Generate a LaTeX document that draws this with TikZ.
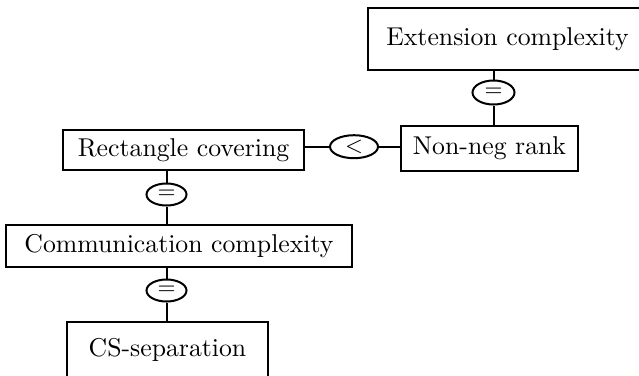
\documentclass[tikz,border=0pt]{standalone}
\usepackage{amsmath}
\usepackage{tikz}
\usetikzlibrary{shapes.geometric}

\begin{document}
\begin{tikzpicture}[x=0.4pt, y=-0.4pt,
    box/.style={draw, line width=0.8pt, inner sep=0pt, font=\fontsize{10.3}{12}\selectfont},
    rel/.style={draw, ellipse, line width=0.8pt, inner sep=0pt, font=\fontsize{9.5}{11}\selectfont},
    link/.style={line width=0.8pt}]
    \useasboundingbox (0,0) rectangle (639,375);
    \clip (0,0) rectangle (639,375);
    % Boxes
    \node[box, minimum width=111.6pt, minimum height=24.8pt] (ext) at (507.5,39) {Extension complexity};
    \node[box, minimum width=70.8pt, minimum height=18pt] (nonneg) at (489.5,148.5) {Non-neg rank};
    \node[box, minimum width=96.6pt, minimum height=16pt] (rect) at (183.5,150) {Rectangle covering};
    \node[box, minimum width=138.4pt, minimum height=16.8pt] (comm) at (179,246) {Communication complexity};
    \node[box, minimum width=80.4pt, minimum height=22.4pt] (cs) at (167.5,350) {CS-separation};
    % Relations
    \node[rel, minimum width=16.8pt, minimum height=9.6pt] (eqext) at (493.5,92.5) {$=$};
    \node[rel, minimum width=19.2pt, minimum height=9.2pt] (lt) at (354,146.7) {$<$};
    \node[rel, minimum width=16pt, minimum height=8.8pt] (eqrect) at (166.5,194.5) {$=$};
    \node[rel, minimum width=16pt, minimum height=8.8pt] (eqcomm) at (166.5,290.5) {$=$};
    % Links
    \draw[link] (ext.south -| eqext) -- (eqext.north);
    \draw[link] (eqext.south) -- (nonneg.north -| eqext);
    \draw[link] (rect.east |- lt) -- (lt.west);
    \draw[link] (lt.east) -- (nonneg.west |- lt);
    \draw[link] (rect.south -| eqrect) -- (eqrect.north);
    \draw[link] (eqrect.south) -- (comm.north -| eqrect);
    \draw[link] (comm.south -| eqcomm) -- (eqcomm.north);
    \draw[link] (eqcomm.south) -- (cs.north -| eqcomm);
\end{tikzpicture}
\end{document}
